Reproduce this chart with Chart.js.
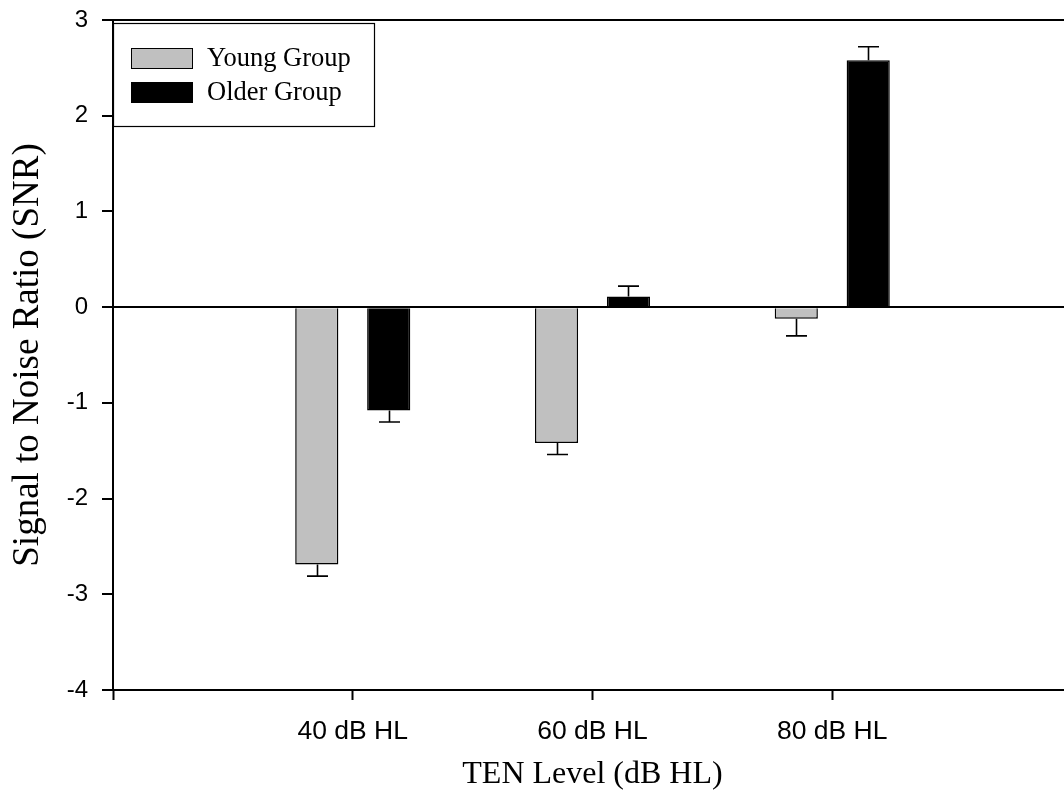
<!DOCTYPE html>
<html>
<head>
<meta charset="utf-8">
<script src="https://cdn.jsdelivr.net/npm/chart.js@4"></script>
<style>
  html, body { margin: 0; padding: 0; background: #fff; overflow: hidden; width: 1064px; height: 806px; }
  #c { display: block; position: absolute; left: 0; top: 0; }
</style>
</head>
<body>
<canvas id="c" width="1080" height="806" style="width:1080px;height:806px"></canvas>
<script>
// ---- data ----
const categories = ['', '40 dB HL', '60 dB HL', '80 dB HL', ''];
const seriesNames = ['Young Group', 'Older Group'];
const youngValues = [null, -2.69, -1.42, -0.12, null];
const youngErrors = [null, 0.12, 0.12, 0.18, null];
const olderValues = [null, -1.08, 0.11, 2.58, null];
const olderErrors = [null, 0.12, 0.11, 0.14, null];
const yTicks = [3, 2, 1, 0, -1, -2, -3, -4];
const xTitle = 'TEN Level (dB HL)';
const yTitle = 'Signal to Noise Ratio (SNR)';

const serif = "'Liberation Serif', 'Times New Roman', serif";
const sans = "'Liberation Sans', Arial, sans-serif";

const errorBars = {
  id: 'errorBars',
  afterDatasetsDraw(chart) {
    const ctx = chart.ctx;
    const y = chart.scales.y;
    ctx.save();
    ctx.strokeStyle = '#000';
    ctx.lineWidth = 1.6;
    chart.data.datasets.forEach((ds, di) => {
      const meta = chart.getDatasetMeta(di);
      meta.data.forEach((bar, i) => {
        const v = ds.data[i], e = ds.errors[i];
        if (v == null || e == null) return;
        const end = v >= 0 ? v + e : v - e;
        const y0 = y.getPixelForValue(v);
        const y1 = y.getPixelForValue(end);
        const x = Math.round(bar.x) + 0.5;
        ctx.beginPath();
        ctx.moveTo(x, y0);
        ctx.lineTo(x, y1);
        ctx.moveTo(x - 10.5, y1);
        ctx.lineTo(x + 10.5, y1);
        ctx.stroke();
      });
    });
    ctx.restore();
  }
};

const boxLegend = {
  id: 'boxLegend',
  afterDraw(chart) {
    const ctx = chart.ctx;
    ctx.save();
    ctx.fillStyle = '#fff';
    ctx.fillRect(113.5, 23.5, 261, 103);
    ctx.strokeStyle = '#000';
    ctx.lineWidth = 1.2;
    ctx.strokeRect(113.5, 23.5, 261, 103);
    const rows = [{ top: 48, base: 66 }, { top: 82, base: 100 }];
    chart.data.datasets.forEach((ds, i) => {
      const r = rows[i];
      ctx.fillStyle = ds.backgroundColor;
      ctx.fillRect(131.5, r.top + 0.5, 61, 20);
      ctx.strokeStyle = '#000';
      ctx.lineWidth = 1;
      ctx.strokeRect(131.5, r.top + 0.5, 61, 20);
      ctx.fillStyle = '#000';
      ctx.font = "26.5px " + serif;
      ctx.textBaseline = 'alphabetic';
      ctx.textAlign = 'left';
      ctx.fillText(ds.label, 207, r.base);
    });
    ctx.restore();
  }
};

new Chart(document.getElementById('c'), {
  type: 'bar',
  data: {
    labels: categories,
    datasets: [
      { label: seriesNames[0], data: youngValues, errors: youngErrors,
        backgroundColor: '#c0c0c0', borderColor: '#000', borderWidth: 1.5 },
      { label: seriesNames[1], data: olderValues, errors: olderErrors,
        backgroundColor: '#000', borderColor: '#000', borderWidth: 1.5 }
    ]
  },
  options: {
    responsive: false,
    animation: false,
    devicePixelRatio: 1,
    categoryPercentage: 0.6,
    barPercentage: 0.6,
    layout: { autoPadding: false, padding: { top: 20, right: 8, left: 0, bottom: 0 } },
    plugins: { legend: { display: false }, tooltip: { enabled: false } },
    scales: {
      x: {
        type: 'category',
        offset: false,
        afterFit(s) { s.height = 116; s.paddingLeft = 0; s.paddingRight = 0; },
        grid: { offset: false, drawOnChartArea: false, tickLength: 10, tickColor: '#000', tickWidth: 2 },
        border: { display: true, color: '#000', width: 2 },
        ticks: { color: '#000', font: { family: sans, size: 26.5 }, padding: 16, autoSkip: false, maxRotation: 0 },
        title: { display: true, text: xTitle, color: '#000', font: { family: serif, size: 32 }, padding: { top: 0, bottom: 12 } }
      },
      y: {
        min: -4, max: 3,
        afterFit(s) { s.width = 113; s.paddingTop = 0; s.paddingBottom = 0; },
        afterBuildTicks(s) { s.ticks = yTicks.map(v => ({ value: v })); },
        grid: {
          color: c => (c.tick && (c.tick.value === 0 || c.tick.value === 3)) ? '#000' : 'rgba(0,0,0,0)',
          lineWidth: 2, tickLength: 11, tickColor: '#000', tickWidth: 2
        },
        border: { display: true, color: '#000', width: 2 },
        ticks: { color: '#000', font: { family: sans, size: 24 }, padding: 14 },
        title: { display: true, text: yTitle, color: '#000', font: { family: serif, size: 37 }, padding: { top: 6, bottom: 0 } }
      }
    }
  },
  plugins: [errorBars, boxLegend]
});
</script>
</body>
</html>
